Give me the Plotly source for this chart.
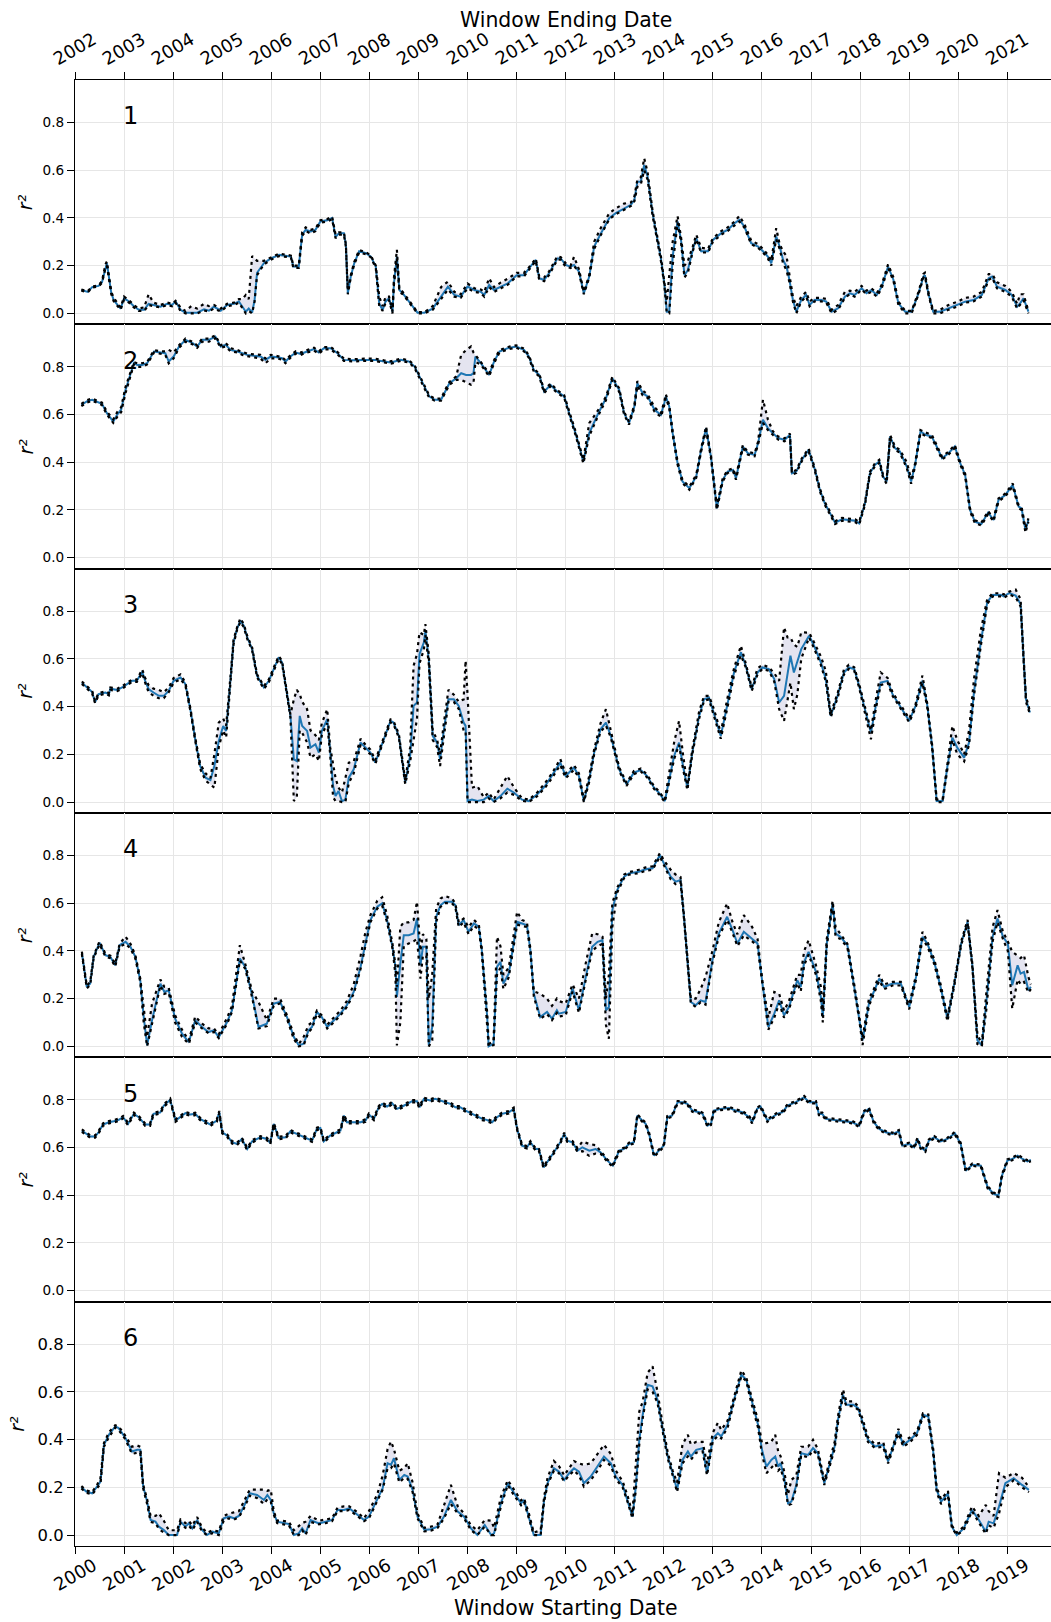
import plotly.graph_objects as go
from plotly.subplots import make_subplots

# ---------------------------------------------------------------------------
# Rolling-window r^2 for six series: window start (decimal year), central
# estimate, lower and upper band.
# ---------------------------------------------------------------------------

T1 = [2000.13, 2000.26, 2000.35, 2000.48, 2000.55, 2000.62, 2000.65, 2000.74, 2000.79, 2000.87,
      2000.93, 2001.0, 2001.1, 2001.2, 2001.3, 2001.41, 2001.5, 2001.6, 2001.74, 2001.88,
      2001.98, 2002.05, 2002.15, 2002.25, 2002.37, 2002.49, 2002.63, 2002.73, 2002.83, 2002.97,
      2003.1, 2003.24, 2003.34, 2003.41, 2003.48, 2003.54, 2003.61, 2003.66, 2003.71, 2003.85,
      2003.99, 2004.16, 2004.33, 2004.4, 2004.45, 2004.56, 2004.63, 2004.7, 2004.8, 2004.9,
      2005.0, 2005.14, 2005.24, 2005.31, 2005.38, 2005.48, 2005.52, 2005.56, 2005.62, 2005.69,
      2005.79, 2005.93, 2006.03, 2006.13, 2006.2, 2006.27, 2006.33, 2006.4, 2006.47, 2006.5,
      2006.56, 2006.61, 2006.68, 2006.81, 2006.98, 2007.12, 2007.29, 2007.46, 2007.6, 2007.73,
      2007.86, 2008.0, 2008.14, 2008.27, 2008.34, 2008.44, 2008.54, 2008.68, 2008.82, 2009.0,
      2009.15, 2009.28, 2009.39, 2009.46, 2009.56, 2009.66, 2009.83, 2009.9, 2010.0, 2010.1,
      2010.17, 2010.27, 2010.37, 2010.48, 2010.58, 2010.72, 2010.89, 2011.02, 2011.19, 2011.33,
      2011.4, 2011.46, 2011.53, 2011.6, 2011.67, 2011.77, 2011.87, 2011.94, 2012.01, 2012.06,
      2012.11, 2012.18, 2012.28, 2012.35, 2012.42, 2012.49, 2012.59, 2012.66, 2012.76, 2012.9,
      2013.0, 2013.17, 2013.3, 2013.44, 2013.54, 2013.64, 2013.78, 2013.92, 2014.02, 2014.12,
      2014.19, 2014.29, 2014.36, 2014.43, 2014.5, 2014.56, 2014.63, 2014.7, 2014.8, 2014.9,
      2014.97, 2015.07, 2015.21, 2015.31, 2015.42, 2015.55, 2015.69, 2015.79, 2015.89, 2016.03,
      2016.13, 2016.23, 2016.34, 2016.44, 2016.57, 2016.68, 2016.78, 2016.92, 2017.05, 2017.19,
      2017.29, 2017.32, 2017.39, 2017.49, 2017.63, 2017.8, 2018.0, 2018.14, 2018.31, 2018.48,
      2018.62, 2018.69, 2018.79, 2018.96, 2019.09, 2019.2, 2019.26, 2019.33, 2019.43]
M1 = [.098, .09, .11, .115, .13, .195, .21, .085, .055, .035,
      .02, .063, .05, .03, .015, .015, .04, .035, .028, .04,
      .035, .05, .015, .003, .003, .003, .017, .011, .028, .011,
      .035, .04, .05, .031, .007, .02, .003, .056, .17, .21,
      .23, .245, .238, .238, .196, .196, .33, .35, .343, .35,
      .385, .39, .4, .32, .336, .336, .287, .084, .154, .21,
      .26, .252, .238, .196, .04, .014, .05, .063, .007, .126,
      .238, .098, .084, .05, .003, .003, .02, .07, .112, .077,
      .07, .112, .098, .09, .077, .119, .098, .112, .126, .16,
      .16, .196, .224, .147, .14, .168, .23, .23, .203, .196,
      .203, .175, .084, .154, .28, .336, .4, .42, .44, .455,
      .476, .552, .552, .622, .573, .42, .308, .23, .126, .007,
      .007, .238, .385, .308, .16, .182, .266, .315, .26, .26,
      .308, .336, .35, .378, .392, .364, .294, .28, .26, .238,
      .21, .322, .28, .224, .196, .14, .056, .007, .056, .077,
      .035, .056, .056, .049, .007, .021, .07, .084, .077, .105,
      .084, .098, .077, .112, .196, .14, .042, .007, .007, .084,
      .154, .16, .084, .007, .007, .021, .035, .049, .056, .077,
      .147, .154, .112, .098, .077, .028, .042, .063, .007]
L1 = [.095, .088, .108, .113, .128, .19, .2, .08, .05, .03,
      .015, .058, .045, .025, .01, .01, .035, .03, .025, .035,
      .03, .045, .01, 0, 0, 0, .012, .008, .02, .008,
      .03, .035, .045, .02, 0, .01, 0, .05, .16, .205,
      .225, .24, .235, .235, .19, .19, .325, .345, .335, .345,
      .38, .385, .395, .315, .33, .33, .28, .08, .15, .205,
      .255, .248, .235, .19, .03, .01, .045, .055, 0, .12,
      .23, .09, .08, .045, 0, 0, .015, .06, .1, .07,
      .065, .105, .09, .085, .07, .11, .09, .105, .12, .155,
      .155, .19, .22, .14, .135, .16, .225, .225, .195, .19,
      .2, .17, .08, .15, .27, .33, .395, .415, .435, .45,
      .47, .53, .54, .6, .56, .41, .3, .22, .12, 0,
      0, .2, .38, .3, .15, .17, .26, .31, .255, .255,
      .3, .33, .345, .37, .385, .36, .29, .275, .255, .23,
      .2, .31, .27, .21, .18, .13, .05, 0, .05, .07,
      .03, .05, .05, .045, 0, .015, .065, .08, .07, .1,
      .08, .09, .07, .105, .19, .135, .035, 0, 0, .08,
      .15, .155, .08, 0, 0, .015, .03, .045, .05, .07,
      .14, .15, .105, .09, .07, .02, .035, .055, 0]
H1 = [.10, .093, .112, .118, .135, .205, .217, .09, .065, .04,
      .025, .07, .055, .035, .02, .025, .08, .045, .035, .045,
      .04, .052, .025, .01, .03, .02, .04, .03, .035, .02,
      .04, .045, .06, .06, .077, .06, .24, .23, .22, .22,
      .235, .25, .245, .242, .2, .2, .34, .36, .35, .355,
      .39, .395, .405, .33, .34, .34, .29, .1, .16, .215,
      .265, .256, .242, .2, .07, .03, .07, .07, .01, .15,
      .266, .105, .09, .055, .005, .005, .03, .11, .133, .09,
      .08, .125, .105, .1, .09, .147, .11, .13, .145, .17,
      .17, .2, .23, .155, .15, .175, .24, .235, .21, .2,
      .237, .185, .09, .16, .3, .36, .42, .44, .46, .465,
      .49, .56, .57, .65, .59, .43, .315, .24, .13, .05,
      .16, .3, .408, .32, .2, .22, .28, .33, .275, .27,
      .315, .345, .36, .385, .408, .375, .305, .29, .27, .245,
      .22, .357, .29, .26, .24, .16, .07, .03, .07, .09,
      .05, .065, .065, .06, .015, .035, .09, .095, .09, .115,
      .095, .105, .085, .12, .205, .15, .05, .01, .01, .09,
      .165, .17, .09, .01, .015, .035, .05, .065, .07, .09,
      .165, .165, .13, .115, .09, .04, .08, .08, .01]

T2 = [2000.13, 2000.24, 2000.35, 2000.45, 2000.55, 2000.65, 2000.78, 2000.86, 2000.94, 2001.03,
      2001.13, 2001.2, 2001.27, 2001.37, 2001.47, 2001.61, 2001.74, 2001.84, 2001.91, 2002.01,
      2002.12, 2002.25, 2002.39, 2002.49, 2002.59, 2002.73, 2002.86, 2002.97, 2003.07, 2003.17,
      2003.31, 2003.41, 2003.51, 2003.65, 2003.78, 2003.88, 2003.99, 2004.12, 2004.22, 2004.29,
      2004.39, 2004.5, 2004.6, 2004.73, 2004.87, 2004.97, 2005.07, 2005.21, 2005.35, 2005.48,
      2005.69, 2005.89, 2006.1, 2006.3, 2006.44, 2006.64, 2006.81, 2006.92, 2007.02, 2007.12,
      2007.22, 2007.33, 2007.46, 2007.56, 2007.63, 2007.77, 2007.87, 2007.97, 2008.07, 2008.12,
      2008.16, 2008.27, 2008.44, 2008.54, 2008.65, 2008.82, 2008.99, 2009.15, 2009.25, 2009.35,
      2009.46, 2009.56, 2009.69, 2009.83, 2009.97, 2010.07, 2010.2, 2010.36, 2010.48, 2010.65,
      2010.82, 2010.95, 2011.09, 2011.19, 2011.29, 2011.4, 2011.46, 2011.57, 2011.67, 2011.81,
      2011.94, 2012.01, 2012.04, 2012.11, 2012.18, 2012.28, 2012.38, 2012.52, 2012.66, 2012.76,
      2012.86, 2012.96, 2013.08, 2013.2, 2013.3, 2013.41, 2013.47, 2013.61, 2013.71, 2013.85,
      2013.92, 2014.02, 2014.12, 2014.22, 2014.33, 2014.46, 2014.57, 2014.61, 2014.7, 2014.81,
      2014.95, 2015.08, 2015.18, 2015.28, 2015.42, 2015.49, 2015.63, 2015.76, 2015.9, 2015.98,
      2016.1, 2016.2, 2016.3, 2016.39, 2016.47, 2016.54, 2016.61, 2016.71, 2016.81, 2016.95,
      2017.04, 2017.12, 2017.23, 2017.33, 2017.46, 2017.56, 2017.67, 2017.8, 2017.93, 2018.04,
      2018.14, 2018.24, 2018.34, 2018.47, 2018.61, 2018.72, 2018.82, 2018.96, 2019.11, 2019.23,
      2019.29, 2019.37, 2019.43]
M2 = [.64, .655, .662, .655, .645, .606, .57, .6, .62, .703,
      .773, .815, .808, .808, .815, .864, .86, .857, .822, .843,
      .885, .913, .9, .885, .913, .913, .927, .885, .892, .871,
      .864, .857, .85, .846, .843, .829, .843, .84, .836, .822,
      .843, .86, .854, .864, .874, .86, .878, .878, .857, .829,
      .827, .829, .829, .822, .818, .829, .822, .801, .759, .717,
      .676, .662, .662, .703, .731, .752, .773, .766, .766, .773,
      .843, .815, .766, .822, .864, .878, .885, .871, .843, .787,
      .766, .696, .724, .696, .676, .606, .522, .403, .522, .599,
      .668, .752, .703, .606, .564, .634, .731, .689, .676, .62,
      .599, .648, .676, .634, .522, .396, .319, .291, .34, .452,
      .543, .424, .207, .326, .361, .368, .333, .466, .438, .431,
      .48, .578, .543, .522, .501, .494, .515, .354, .361, .41,
      .452, .368, .284, .228, .172, .147, .161, .158, .155, .144,
      .228, .354, .389, .403, .34, .319, .508, .459, .445, .382,
      .319, .389, .529, .515, .508, .466, .417, .438, .466, .396,
      .347, .2, .151, .141, .189, .158, .242, .263, .305, .214,
      .207, .116, .158]
L2 = [.635, .65, .658, .65, .64, .6, .565, .59, .61, .69,
      .765, .81, .8, .8, .81, .86, .855, .85, .815, .835,
      .88, .905, .895, .88, .905, .905, .92, .88, .885, .865,
      .86, .85, .845, .84, .835, .815, .835, .835, .83, .815,
      .838, .855, .85, .86, .868, .855, .873, .873, .852, .825,
      .822, .825, .825, .818, .813, .825, .818, .795, .75, .71,
      .67, .658, .658, .698, .725, .745, .745, .735, .725, .73,
      .82, .81, .76, .815, .86, .873, .88, .865, .838, .78,
      .76, .69, .718, .69, .67, .6, .515, .395, .51, .59,
      .66, .745, .695, .6, .558, .628, .72, .68, .67, .612,
      .59, .64, .67, .628, .515, .39, .312, .285, .335, .445,
      .535, .418, .2, .32, .355, .362, .327, .46, .432, .425,
      .474, .565, .535, .515, .495, .488, .508, .348, .355, .404,
      .446, .362, .278, .222, .166, .141, .155, .152, .149, .138,
      .222, .348, .383, .397, .334, .31, .5, .452, .44, .376,
      .31, .383, .523, .51, .502, .46, .411, .432, .46, .39,
      .341, .194, .145, .135, .183, .152, .236, .257, .299, .208,
      .2, .105, .15]
H2 = [.645, .66, .667, .66, .65, .612, .58, .61, .63, .715,
      .78, .82, .815, .815, .82, .87, .865, .865, .871, .86,
      .89, .918, .905, .89, .918, .918, .932, .89, .9, .878,
      .87, .862, .855, .852, .85, .835, .85, .845, .84, .828,
      .848, .865, .86, .87, .88, .865, .883, .883, .862, .834,
      .832, .834, .834, .827, .823, .834, .827, .806, .765, .722,
      .68, .667, .667, .71, .736, .76, .85, .87, .885, .86,
      .85, .82, .772, .828, .87, .883, .89, .876, .848, .792,
      .772, .702, .73, .702, .68, .612, .53, .41, .564, .615,
      .675, .758, .71, .612, .57, .64, .74, .7, .685, .63,
      .605, .655, .685, .64, .53, .403, .325, .298, .347, .458,
      .55, .43, .215, .333, .367, .374, .34, .472, .444, .437,
      .486, .662, .58, .53, .508, .5, .52, .36, .367, .416,
      .458, .374, .29, .234, .178, .153, .167, .164, .161, .15,
      .234, .36, .395, .41, .346, .325, .515, .466, .452, .4,
      .33, .395, .535, .525, .515, .472, .423, .444, .472, .402,
      .353, .206, .157, .147, .195, .164, .248, .269, .311, .22,
      .213, .125, .165]

T3 = [2000.14, 2000.24, 2000.35, 2000.38, 2000.41, 2000.48, 2000.62, 2000.69, 2000.72, 2000.86,
      2000.96, 2001.06, 2001.16, 2001.26, 2001.37, 2001.43, 2001.5, 2001.6, 2001.71, 2001.81,
      2001.91, 2002.01, 2002.15, 2002.25, 2002.35, 2002.45, 2002.55, 2002.66, 2002.76, 2002.84,
      2002.93, 2003.02, 2003.08, 2003.17, 2003.23, 2003.3, 2003.37, 2003.44, 2003.51, 2003.61,
      2003.71, 2003.85, 2003.95, 2004.05, 2004.15, 2004.22, 2004.32, 2004.39, 2004.46, 2004.52,
      2004.58, 2004.63, 2004.73, 2004.8, 2004.9, 2004.97, 2005.03, 2005.14, 2005.2, 2005.26,
      2005.31, 2005.37, 2005.44, 2005.51, 2005.58, 2005.68, 2005.82, 2005.92, 2006.02, 2006.12,
      2006.22, 2006.32, 2006.43, 2006.49, 2006.6, 2006.66, 2006.73, 2006.83, 2006.9, 2006.97,
      2007.02, 2007.11, 2007.14, 2007.21, 2007.29, 2007.38, 2007.44, 2007.51, 2007.61, 2007.72,
      2007.82, 2007.92, 2007.96, 2008.0, 2008.09, 2008.2, 2008.33, 2008.43, 2008.53, 2008.67,
      2008.81, 2008.95, 2009.11, 2009.25, 2009.42, 2009.58, 2009.72, 2009.89, 2010.0, 2010.17,
      2010.27, 2010.37, 2010.48, 2010.58, 2010.71, 2010.82, 2010.92, 2011.09, 2011.24, 2011.39,
      2011.53, 2011.66, 2011.8, 2011.9, 2012.02, 2012.11, 2012.21, 2012.31, 2012.39, 2012.48,
      2012.58, 2012.72, 2012.82, 2012.92, 2013.02, 2013.16, 2013.29, 2013.43, 2013.57, 2013.67,
      2013.79, 2013.91, 2014.01, 2014.14, 2014.25, 2014.35, 2014.45, 2014.52, 2014.58, 2014.65,
      2014.72, 2014.8, 2014.96, 2015.06, 2015.2, 2015.3, 2015.4, 2015.54, 2015.67, 2015.77,
      2015.88, 2015.98, 2016.08, 2016.22, 2016.32, 2016.42, 2016.56, 2016.66, 2016.79, 2016.9,
      2017.0, 2017.13, 2017.27, 2017.37, 2017.47, 2017.56, 2017.68, 2017.78, 2017.88, 2017.98,
      2018.12, 2018.22, 2018.32, 2018.46, 2018.59, 2018.7, 2018.87, 2018.93, 2019.04, 2019.17,
      2019.27, 2019.34, 2019.38, 2019.41, 2019.46]
M3 = [.5, .48, .461, .438, .419, .452, .459, .452, .475, .47,
      .48, .494, .508, .508, .546, .508, .473, .459, .445, .445,
      .466, .508, .522, .494, .389, .263, .151, .102, .092, .151,
      .256, .319, .298, .515, .669, .725, .76, .739, .69, .641,
      .529, .48, .508, .557, .606, .585, .459, .361, .179, .172,
      .361, .319, .298, .228, .242, .207, .298, .347, .214, .067,
      .025, .046, .004, .01, .102, .137, .249, .228, .207, .165,
      .221, .284, .34, .333, .277, .186, .081, .193, .403, .417,
      .62, .669, .718, .599, .277, .249, .179, .291, .431, .431,
      .403, .333, .319, .004, .01, .004, .01, .025, .004, .025,
      .056, .039, .01, .004, .032, .067, .109, .165, .109, .144,
      .109, .004, .095, .207, .305, .333, .277, .137, .074, .123,
      .134, .109, .06, .039, .004, .095, .193, .249, .151, .06,
      .207, .361, .431, .438, .375, .277, .403, .543, .627, .571,
      .473, .543, .564, .557, .515, .417, .445, .529, .613, .543,
      .585, .641, .697, .655, .585, .515, .361, .445, .543, .564,
      .557, .487, .403, .291, .403, .501, .508, .452, .41, .375,
      .34, .403, .508, .403, .228, .004, .004, .151, .27, .228,
      .186, .249, .459, .669, .837, .868, .868, .862, .876, .865,
      .83, .571, .431, .41, .375]
L3 = [.495, .475, .455, .433, .414, .447, .454, .447, .47, .465,
      .475, .489, .503, .503, .54, .5, .46, .445, .435, .435,
      .46, .5, .515, .488, .383, .257, .14, .09, .075, .06,
      .23, .3, .27, .5, .66, .72, .755, .733, .684, .635,
      .523, .474, .502, .55, .6, .579, .453, .355, .004, .02,
      .3, .29, .25, .186, .2, .172, .28, .33, .2, .02,
      .004, .004, 0, 0, .08, .12, .24, .22, .2, .16,
      .215, .278, .334, .327, .27, .18, .075, .17, .27, .35,
      .58, .64, .7, .58, .26, .23, .151, .27, .42, .42,
      .39, .3, .3, 0, 0, 0, 0, .015, 0, .015,
      .04, .03, .005, 0, .025, .06, .1, .155, .1, .135,
      .1, 0, .085, .2, .295, .32, .27, .13, .068, .117,
      .128, .103, .055, .033, 0, .085, .18, .24, .14, .05,
      .2, .35, .425, .43, .365, .265, .39, .53, .615, .565,
      .465, .535, .558, .55, .505, .389, .34, .42, .5, .389,
      .45, .6, .69, .645, .575, .505, .355, .435, .535, .558,
      .55, .48, .395, .263, .39, .49, .5, .445, .404, .368,
      .334, .395, .5, .395, .22, 0, 0, .14, .26, .2,
      .17, .24, .445, .655, .83, .862, .862, .856, .87, .858,
      .82, .56, .42, .4, .37]
H3 = [.505, .485, .466, .443, .424, .457, .464, .457, .48, .475,
      .485, .499, .513, .513, .556, .52, .49, .475, .47, .46,
      .48, .52, .535, .5, .395, .27, .16, .12, .1, .2,
      .333, .35, .32, .53, .68, .73, .77, .745, .696, .647,
      .535, .486, .514, .563, .612, .591, .465, .367, .43, .47,
      .452, .42, .389, .3, .28, .26, .33, .389, .23, .151,
      .1, .06, .04, .1, .165, .17, .265, .24, .22, .175,
      .23, .29, .346, .34, .285, .195, .09, .23, .571, .62,
      .711, .7, .746, .62, .3, .26, .2, .32, .47, .45,
      .42, .43, .592, .45, .06, .067, .02, .04, .01, .06,
      .109, .06, .015, .01, .04, .08, .12, .18, .12, .155,
      .12, .01, .11, .22, .33, .389, .3, .145, .08, .13,
      .14, .115, .066, .045, .01, .12, .25, .34, .2, .07,
      .22, .38, .445, .445, .39, .29, .43, .56, .655, .58,
      .48, .56, .575, .565, .54, .508, .732, .69, .69, .66,
      .65, .711, .71, .67, .61, .55, .37, .455, .555, .575,
      .565, .495, .41, .3, .43, .543, .52, .46, .418, .382,
      .35, .41, .53, .41, .235, .01, .01, .16, .319, .26,
      .2, .3, .515, .72, .85, .875, .875, .87, .882, .89,
      .85, .58, .44, .42, .38]

T4 = [2000.14, 2000.24, 2000.31, 2000.38, 2000.5, 2000.62, 2000.72, 2000.82, 2000.91, 2001.03,
      2001.13, 2001.23, 2001.33, 2001.4, 2001.47, 2001.57, 2001.74, 2001.82, 2001.91, 2002.04,
      2002.18, 2002.32, 2002.45, 2002.59, 2002.72, 2002.83, 2002.93, 2003.1, 2003.2, 2003.36,
      2003.47, 2003.61, 2003.74, 2003.91, 2004.05, 2004.18, 2004.32, 2004.46, 2004.56, 2004.66,
      2004.76, 2004.83, 2004.93, 2005.03, 2005.14, 2005.27, 2005.41, 2005.54, 2005.68, 2005.82,
      2005.92, 2006.02, 2006.16, 2006.26, 2006.36, 2006.47, 2006.53, 2006.56, 2006.63, 2006.7,
      2006.8, 2006.9, 2006.97, 2007.04, 2007.09, 2007.16, 2007.21, 2007.28, 2007.36, 2007.45,
      2007.54, 2007.68, 2007.75, 2007.82, 2007.92, 2008.02, 2008.13, 2008.23, 2008.29, 2008.4,
      2008.43, 2008.53, 2008.6, 2008.67, 2008.73, 2008.84, 2008.94, 2009.01, 2009.11, 2009.21,
      2009.28, 2009.35, 2009.48, 2009.62, 2009.72, 2009.82, 2009.86, 2010.0, 2010.14, 2010.27,
      2010.41, 2010.54, 2010.65, 2010.75, 2010.82, 2010.88, 2010.95, 2011.05, 2011.19, 2011.29,
      2011.49, 2011.63, 2011.77, 2011.92, 2012.0, 2012.14, 2012.24, 2012.34, 2012.41, 2012.48,
      2012.55, 2012.65, 2012.75, 2012.85, 2012.99, 2013.12, 2013.29, 2013.4, 2013.5, 2013.63,
      2013.8, 2013.91, 2014.01, 2014.13, 2014.25, 2014.35, 2014.45, 2014.55, 2014.72, 2014.79,
      2014.86, 2014.95, 2015.1, 2015.2, 2015.24, 2015.32, 2015.44, 2015.5, 2015.6, 2015.74,
      2015.88, 2015.98, 2016.05, 2016.18, 2016.28, 2016.39, 2016.49, 2016.66, 2016.83, 2016.94,
      2017.0, 2017.14, 2017.27, 2017.37, 2017.51, 2017.64, 2017.78, 2017.92, 2018.06, 2018.19,
      2018.29, 2018.39, 2018.48, 2018.57, 2018.7, 2018.8, 2018.91, 2019.01, 2019.1, 2019.21,
      2019.27, 2019.34, 2019.43, 2019.48]
M4 = [.392, .249, .263, .375, .434, .382, .375, .34, .424, .438,
      .417, .375, .277, .123, .004, .109, .263, .228, .235, .116,
      .053, .018, .109, .081, .06, .067, .039, .102, .151, .368,
      .333, .214, .081, .095, .179, .186, .123, .039, .004, .011,
      .067, .081, .144, .123, .081, .109, .137, .172, .228, .333,
      .431, .529, .585, .599, .529, .417, .333, .207, .347, .466,
      .466, .473, .536, .34, .417, .417, .004, .081, .543, .592,
      .606, .606, .592, .508, .529, .48, .515, .501, .403, .123,
      0, .011, .333, .354, .263, .305, .431, .522, .515, .508,
      .403, .221, .123, .144, .116, .151, .137, .144, .242, .151,
      .291, .417, .438, .445, .151, .165, .571, .655, .711, .725,
      .732, .742, .746, .802, .767, .711, .69, .697, .543, .361,
      .186, .172, .193, .186, .361, .473, .543, .487, .431, .48,
      .452, .431, .263, .081, .137, .193, .13, .165, .277, .249,
      .354, .396, .312, .207, .123, .431, .599, .473, .459, .424,
      .249, .123, .025, .179, .228, .284, .249, .263, .263, .193,
      .165, .291, .459, .431, .354, .249, .116, .263, .431, .522,
      .333, .025, .004, .179, .459, .536, .459, .431, .256, .34,
      .305, .312, .235, .249]
L4 = [.387, .243, .257, .37, .428, .376, .37, .334, .418, .43,
      .41, .368, .27, .1, 0, .09, .255, .22, .225, .1,
      .04, .01, .1, .075, .055, .06, .035, .095, .145, .36,
      .325, .205, .075, .085, .17, .18, .115, .03, 0, .005,
      .06, .075, .135, .115, .075, .1, .13, .165, .22, .325,
      .42, .52, .578, .59, .52, .41, .3, .004, .1, .42,
      .431, .44, .45, .284, .38, .38, 0, .025, .52, .585,
      .6, .6, .585, .5, .52, .47, .505, .49, .395, .11,
      0, .005, .3, .33, .24, .29, .42, .51, .505, .5,
      .395, .21, .115, .135, .11, .14, .125, .13, .23, .14,
      .28, .4, .42, .43, .09, .032, .5, .645, .705, .72,
      .726, .736, .74, .795, .76, .7, .68, .69, .535, .355,
      .18, .165, .185, .175, .35, .46, .53, .475, .42, .465,
      .44, .42, .255, .07, .12, .18, .12, .155, .265, .23,
      .34, .385, .3, .19, .1, .42, .59, .46, .45, .415,
      .24, .115, .005, .17, .22, .275, .24, .255, .255, .185,
      .155, .28, .45, .42, .345, .24, .105, .255, .425, .515,
      .325, .01, 0, .15, .44, .52, .45, .4, .158, .28,
      .26, .27, .225, .24]
H4 = [.397, .255, .27, .38, .44, .388, .38, .346, .43, .46,
      .43, .382, .285, .15, .04, .179, .28, .25, .245, .13,
      .07, .025, .125, .095, .075, .075, .05, .12, .17, .424,
      .345, .23, .186, .11, .2, .2, .13, .05, .01, .04,
      .09, .1, .15, .13, .09, .12, .15, .19, .26, .38,
      .48, .55, .61, .625, .55, .43, .34, .25, .501, .52,
      .52, .53, .606, .4, .47, .45, .2, .3, .578, .62,
      .63, .62, .6, .52, .535, .5, .53, .51, .41, .14,
      .01, .02, .459, .42, .3, .33, .47, .564, .53, .52,
      .41, .23, .221, .2, .17, .2, .19, .18, .26, .2,
      .35, .473, .47, .46, .2, .3, .6, .665, .72, .73,
      .74, .75, .755, .81, .78, .74, .72, .71, .55, .37,
      .2, .2, .24, .291, .4, .52, .599, .52, .47, .55,
      .5, .45, .27, .12, .228, .22, .15, .19, .3, .3,
      .4, .445, .34, .25, .15, .45, .61, .5, .47, .43,
      .26, .13, .035, .2, .24, .3, .26, .27, .27, .2,
      .175, .3, .48, .44, .365, .26, .125, .27, .44, .53,
      .34, .05, .01, .22, .5, .571, .48, .44, .396, .38,
      .37, .382, .29, .26]

T5 = [2000.14, 2000.24, 2000.31, 2000.41, 2000.48, 2000.57, 2000.69, 2000.79, 2000.89, 2000.98,
      2001.08, 2001.2, 2001.3, 2001.43, 2001.53, 2001.6, 2001.67, 2001.74, 2001.81, 2001.94,
      2002.05, 2002.15, 2002.25, 2002.35, 2002.45, 2002.55, 2002.66, 2002.76, 2002.89, 2002.94,
      2003.0, 2003.1, 2003.2, 2003.3, 2003.4, 2003.51, 2003.61, 2003.78, 2003.91, 2003.98,
      2004.05, 2004.15, 2004.29, 2004.39, 2004.52, 2004.66, 2004.83, 2004.93, 2005.0, 2005.07,
      2005.2, 2005.34, 2005.41, 2005.48, 2005.54, 2005.68, 2005.82, 2005.92, 2005.99, 2006.09,
      2006.19, 2006.26, 2006.36, 2006.46, 2006.56, 2006.67, 2006.77, 2006.87, 2006.97, 2007.02,
      2007.11, 2007.24, 2007.34, 2007.48, 2007.65, 2007.75, 2007.85, 2007.96, 2008.06, 2008.19,
      2008.3, 2008.39, 2008.5, 2008.6, 2008.7, 2008.84, 2008.94, 2009.01, 2009.11, 2009.21,
      2009.28, 2009.38, 2009.45, 2009.55, 2009.65, 2009.76, 2009.89, 2009.97, 2010.03, 2010.14,
      2010.24, 2010.34, 2010.48, 2010.61, 2010.71, 2010.85, 2010.96, 2011.09, 2011.19, 2011.29,
      2011.39, 2011.46, 2011.56, 2011.63, 2011.7, 2011.8, 2011.9, 2012.0, 2012.07, 2012.17,
      2012.28, 2012.38, 2012.48, 2012.58, 2012.72, 2012.79, 2012.89, 2012.96, 2013.02, 2013.16,
      2013.33, 2013.46, 2013.6, 2013.74, 2013.8, 2013.9, 2013.97, 2014.11, 2014.21, 2014.31,
      2014.42, 2014.52, 2014.69, 2014.86, 2014.96, 2015.1, 2015.16, 2015.23, 2015.3, 2015.43,
      2015.57, 2015.71, 2015.84, 2015.98, 2016.08, 2016.18, 2016.28, 2016.39, 2016.52, 2016.66,
      2016.79, 2016.86, 2017.0, 2017.1, 2017.17, 2017.23, 2017.33, 2017.4, 2017.51, 2017.64,
      2017.78, 2017.93, 2018.05, 2018.15, 2018.29, 2018.46, 2018.6, 2018.73, 2018.82, 2018.89,
      2019.0, 2019.1, 2019.21, 2019.31, 2019.41, 2019.48]
M5 = [.671, .657, .646, .646, .664, .696, .706, .71, .716, .727,
      .699, .741, .727, .696, .696, .741, .744, .747, .776, .8,
      .713, .727, .744, .738, .741, .72, .706, .696, .713, .748,
      .664, .65, .622, .615, .636, .594, .626, .643, .636, .618,
      .699, .64, .643, .668, .657, .643, .629, .678, .682, .626,
      .65, .664, .671, .734, .706, .706, .706, .713, .738, .72,
      .769, .783, .772, .786, .762, .772, .783, .794, .794, .769,
      .804, .797, .804, .794, .783, .769, .769, .755, .744, .73,
      .72, .716, .706, .727, .741, .748, .762, .678, .608, .601,
      .622, .594, .594, .517, .545, .58, .622, .657, .629, .622,
      .587, .601, .587, .594, .58, .545, .524, .587, .594, .615,
      .622, .734, .713, .699, .657, .566, .587, .608, .727, .734,
      .79, .79, .783, .755, .748, .741, .692, .699, .755, .762,
      .766, .755, .748, .727, .706, .762, .772, .713, .727, .741,
      .748, .776, .79, .811, .79, .79, .741, .741, .72, .716,
      .713, .71, .706, .692, .748, .762, .706, .678, .664, .657,
      .668, .608, .615, .601, .636, .601, .587, .629, .643, .626,
      .636, .66, .615, .503, .528, .524, .433, .405, .398, .482,
      .545, .552, .566, .552, .542, .548]
L5 = [.666, .652, .641, .641, .659, .691, .701, .705, .711, .722,
      .694, .736, .722, .691, .691, .736, .739, .742, .771, .795,
      .708, .722, .739, .733, .736, .715, .701, .691, .708, .743,
      .659, .645, .617, .61, .631, .589, .621, .638, .631, .613,
      .694, .635, .638, .663, .652, .638, .624, .673, .677, .621,
      .645, .659, .666, .729, .701, .701, .701, .708, .733, .715,
      .764, .778, .767, .781, .757, .767, .778, .789, .789, .764,
      .799, .792, .799, .789, .778, .764, .764, .75, .739, .725,
      .715, .711, .701, .722, .736, .743, .757, .673, .603, .596,
      .617, .589, .589, .512, .54, .575, .617, .652, .624, .617,
      .582, .585, .565, .575, .575, .54, .519, .582, .589, .61,
      .617, .729, .708, .694, .652, .561, .582, .603, .722, .729,
      .785, .785, .778, .75, .743, .736, .687, .694, .75, .757,
      .761, .75, .743, .722, .701, .757, .767, .708, .722, .736,
      .743, .771, .785, .806, .785, .785, .736, .736, .715, .711,
      .708, .705, .701, .687, .743, .757, .701, .673, .659, .652,
      .663, .603, .61, .596, .631, .596, .582, .624, .638, .621,
      .631, .655, .61, .498, .523, .519, .428, .4, .393, .477,
      .54, .547, .561, .547, .537, .543]
H5 = [.676, .662, .651, .651, .669, .701, .711, .715, .721, .732,
      .704, .746, .732, .701, .701, .746, .749, .752, .781, .805,
      .718, .732, .749, .743, .746, .725, .711, .701, .718, .753,
      .669, .655, .627, .62, .641, .599, .631, .648, .641, .623,
      .704, .645, .648, .673, .662, .648, .634, .683, .687, .631,
      .655, .669, .676, .739, .711, .711, .711, .718, .743, .725,
      .774, .788, .777, .791, .767, .777, .788, .799, .799, .774,
      .809, .802, .809, .799, .788, .774, .774, .76, .749, .735,
      .725, .721, .711, .732, .746, .753, .767, .683, .613, .606,
      .627, .599, .599, .522, .55, .585, .627, .662, .634, .627,
      .597, .625, .615, .61, .585, .55, .529, .592, .599, .62,
      .627, .739, .718, .704, .662, .571, .592, .613, .732, .739,
      .795, .795, .788, .76, .753, .746, .697, .704, .76, .767,
      .771, .76, .753, .732, .711, .767, .777, .718, .732, .746,
      .753, .781, .795, .816, .795, .795, .746, .746, .725, .721,
      .718, .715, .711, .697, .753, .767, .711, .683, .669, .662,
      .673, .613, .62, .606, .641, .606, .592, .634, .648, .631,
      .641, .665, .62, .508, .533, .529, .438, .41, .403, .487,
      .55, .557, .571, .557, .547, .553]

T6 = [2000.13, 2000.23, 2000.35, 2000.45, 2000.52, 2000.59, 2000.69, 2000.82, 2000.89, 2001.03,
      2001.16, 2001.27, 2001.33, 2001.39, 2001.47, 2001.54, 2001.64, 2001.71, 2001.81, 2001.91,
      2002.08, 2002.15, 2002.25, 2002.32, 2002.39, 2002.49, 2002.59, 2002.69, 2002.8, 2002.93,
      2003.03, 2003.14, 2003.24, 2003.34, 2003.44, 2003.56, 2003.71, 2003.85, 2003.92, 2003.99,
      2004.05, 2004.12, 2004.22, 2004.36, 2004.46, 2004.56, 2004.63, 2004.7, 2004.8, 2004.97,
      2005.11, 2005.24, 2005.35, 2005.48, 2005.59, 2005.76, 2005.89, 2005.99, 2006.16, 2006.27,
      2006.37, 2006.44, 2006.5, 2006.61, 2006.71, 2006.78, 2006.88, 2006.98, 2007.12, 2007.25,
      2007.39, 2007.52, 2007.66, 2007.8, 2007.93, 2008.07, 2008.2, 2008.35, 2008.48, 2008.54,
      2008.68, 2008.82, 2008.95, 2009.09, 2009.15, 2009.25, 2009.35, 2009.49, 2009.56, 2009.63,
      2009.76, 2009.86, 2009.97, 2010.07, 2010.17, 2010.27, 2010.37, 2010.51, 2010.65, 2010.78,
      2010.92, 2011.02, 2011.16, 2011.26, 2011.36, 2011.43, 2011.5, 2011.57, 2011.67, 2011.77,
      2011.87, 2011.98, 2012.08, 2012.18, 2012.27, 2012.38, 2012.49, 2012.55, 2012.66, 2012.79,
      2012.88, 2013.0, 2013.1, 2013.17, 2013.3, 2013.44, 2013.58, 2013.68, 2013.78, 2013.92,
      2014.0, 2014.09, 2014.19, 2014.27, 2014.33, 2014.38, 2014.46, 2014.53, 2014.6, 2014.7,
      2014.8, 2014.94, 2015.04, 2015.14, 2015.27, 2015.38, 2015.48, 2015.55, 2015.65, 2015.72,
      2015.86, 2015.96, 2016.06, 2016.16, 2016.3, 2016.47, 2016.57, 2016.68, 2016.78, 2016.88,
      2017.02, 2017.16, 2017.28, 2017.39, 2017.49, 2017.56, 2017.65, 2017.79, 2017.87, 2017.97,
      2018.11, 2018.28, 2018.42, 2018.56, 2018.62, 2018.72, 2018.83, 2018.96, 2019.13, 2019.3,
      2019.44]
M6 = [.2, .182, .175, .203, .224, .378, .42, .455, .448, .406,
      .35, .357, .357, .203, .14, .063, .056, .035, .021, 0,
      0, .056, .035, .049, .028, .063, .021, 0, .014, .007,
      .07, .077, .07, .08, .119, .175, .168, .147, .168, .147,
      .091, .056, .052, .046, 0, .007, .028, .007, .063, .049,
      .056, .063, .105, .105, .112, .084, .063, .077, .147, .196,
      .301, .294, .322, .231, .252, .245, .189, .077, .021, .024,
      .035, .077, .147, .098, .077, .028, 0, .042, 0, .007,
      .133, .217, .175, .133, .147, .077, 0, 0, .147, .217,
      .28, .266, .231, .259, .28, .266, .217, .245, .287, .329,
      .301, .245, .21, .147, .077, .203, .399, .504, .63, .623,
      .567, .441, .329, .259, .189, .315, .35, .329, .357, .364,
      .259, .406, .427, .413, .462, .574, .672, .651, .567, .462,
      .357, .287, .315, .329, .287, .301, .231, .133, .14, .21,
      .343, .336, .364, .343, .217, .294, .371, .483, .588, .546,
      .546, .532, .469, .399, .371, .378, .308, .371, .434, .378,
      .399, .427, .504, .497, .35, .189, .14, .175, .035, 0,
      .028, .105, .063, .014, .056, .049, .119, .217, .238, .21,
      .189]
L6 = [.195, .177, .17, .198, .215, .37, .41, .45, .44, .4,
      .34, .345, .345, .195, .13, .055, .05, .025, .01, 0,
      0, .05, .03, .04, .02, .055, .015, 0, .008, 0,
      .06, .07, .065, .075, .11, .165, .155, .13, .15, .14,
      .085, .05, .046, .04, 0, 0, .02, 0, .055, .045,
      .05, .058, .1, .1, .105, .078, .058, .07, .14, .19,
      .28, .28, .3, .22, .24, .235, .18, .07, .015, .018,
      .03, .07, .13, .09, .07, .02, 0, .035, 0, 0,
      .12, .21, .165, .125, .14, .07, 0, 0, .14, .21,
      .27, .26, .225, .25, .27, .25, .203, .23, .27, .315,
      .29, .235, .2, .14, .07, .19, .38, .49, .61, .6,
      .555, .43, .32, .25, .18, .3, .33, .315, .345, .35,
      .25, .395, .415, .405, .45, .565, .665, .645, .555, .45,
      .34, .259, .28, .3, .27, .28, .22, .125, .13, .2,
      .335, .325, .355, .335, .21, .285, .36, .47, .58, .54,
      .54, .525, .46, .39, .365, .37, .3, .365, .425, .37,
      .39, .42, .497, .49, .34, .18, .13, .165, .03, 0,
      .02, .1, .055, .005, .04, .03, .09, .2, .23, .2,
      .18]
H6 = [.205, .187, .18, .21, .24, .385, .43, .46, .455, .415,
      .37, .375, .37, .21, .15, .08, .08, .091, .06, .02,
      .02, .065, .05, .06, .04, .075, .03, .01, .02, .015,
      .08, .09, .095, .1, .14, .19, .19, .19, .185, .19,
      .1, .06, .06, .055, .02, .04, .05, .056, .08, .06,
      .065, .07, .115, .12, .12, .095, .07, .1, .17, .25,
      .36, .392, .36, .27, .28, .301, .22, .09, .03, .035,
      .045, .12, .21, .12, .09, .04, .02, .063, .06, .03,
      .16, .23, .19, .145, .155, .09, .01, .02, .16, .24,
      .31, .29, .25, .28, .31, .3, .294, .3, .34, .378,
      .34, .27, .225, .165, .09, .3, .518, .56, .68, .707,
      .6, .46, .345, .27, .22, .38, .42, .38, .39, .39,
      .3, .43, .47, .44, .48, .585, .69, .66, .58, .48,
      .385, .385, .39, .42, .35, .33, .26, .17, .231, .25,
      .37, .37, .399, .36, .225, .31, .39, .5, .61, .56,
      .56, .54, .48, .41, .38, .39, .315, .38, .445, .39,
      .41, .435, .51, .505, .36, .2, .15, .185, .04, .01,
      .035, .12, .08, .126, .1, .08, .259, .24, .26, .24,
      .2]

PANEL_NAMES = ["1", "2", "3", "4", "5", "6"]
START_YEARS = list(range(2000, 2020))
END_YEARS = list(range(2002, 2022))
Y_TICKS = [0.0, 0.2, 0.4, 0.6, 0.8]
Y_TICK_TEXT = ["0.0", "0.2", "0.4", "0.6", "0.8"]
WINDOW_YEARS = 2

# ---------------------------------------------------------------------------
# Styling
# ---------------------------------------------------------------------------
FONT = "DejaVu Sans"
BLUE = "#1f77b4"
BAND = "#e4e4f0"
GRID = "#e6e6e6"
DOTS = "3px,4px"

W, H = 1051, 1622
ML, MR, MT, MB = 75, 0, 80, 76
PX_PER_YEAR = 49.07
X0 = 2000.0
X1 = X0 + (W - ML - MR) / PX_PER_YEAR
Y_RANGE = [-0.046, 0.978]
PLOT_H = H - MT - MB
YEAR_FONT = 18


def px_to_paper_y(py):
    return (H - MB - py) / PLOT_H


def px_to_paper_x(px):
    return (px - ML) / (W - ML - MR)


panels = [(T1, M1, L1, H1), (T2, M2, L2, H2), (T3, M3, L3, H3),
          (T4, M4, L4, H4), (T5, M5, L5, H5), (T6, M6, L6, H6)]

for t, m, lo, hi in panels:
    assert len(t) == len(m) == len(lo) == len(hi), (len(t), len(m), len(lo), len(hi))

fig = make_subplots(rows=6, cols=1, shared_xaxes=True, vertical_spacing=0)

for i, (t, m, lo, hi) in enumerate(panels, start=1):
    fig.add_trace(go.Scatter(x=t, y=lo, mode="lines", line=dict(width=0),
                             hoverinfo="skip", showlegend=False), row=i, col=1)
    fig.add_trace(go.Scatter(x=t, y=hi, mode="lines", line=dict(width=0),
                             fill="tonexty", fillcolor=BAND,
                             hoverinfo="skip", showlegend=False), row=i, col=1)
    fig.add_trace(go.Scatter(x=t, y=m, mode="lines",
                             line=dict(color=BLUE, width=2),
                             showlegend=False), row=i, col=1)
    for band in (lo, hi):
        fig.add_trace(go.Scatter(x=t, y=band, mode="lines",
                                 line=dict(color="black", width=2.2, dash=DOTS),
                                 showlegend=False), row=i, col=1)

# invisible trace that carries the "window ending date" axis
fig.add_trace(go.Scatter(x=[END_YEARS[0]], y=[None], xaxis="x7", yaxis="y",
                         mode="markers", showlegend=False, hoverinfo="skip"))

for i in range(1, 7):
    fig.update_xaxes(
        row=i, col=1,
        range=[X0, X1], tickvals=START_YEARS, showticklabels=False,
        showgrid=True, gridcolor=GRID, gridwidth=1, zeroline=False,
        showline=True, linecolor="black", linewidth=1.2, mirror=True,
        ticks="outside" if i == 6 else "", ticklen=7, tickwidth=1.2, tickcolor="black",
    )
    fig.update_yaxes(
        row=i, col=1,
        range=Y_RANGE, tickvals=Y_TICKS, ticktext=Y_TICK_TEXT,
        showgrid=True, gridcolor=GRID, gridwidth=1, zeroline=False,
        showline=True, linecolor="black", linewidth=1.2,
        ticks="outside", ticklen=7, tickwidth=1.2, tickcolor="black",
        tickfont=dict(family=FONT, size=16.4 if i == 6 else 13.6, color="black"),
    )

fig.update_layout(
    xaxis7=dict(overlaying="x", side="top", anchor="y",
                range=[X0 + WINDOW_YEARS, X1 + WINDOW_YEARS], tickvals=END_YEARS,
                showticklabels=False, showgrid=False, zeroline=False,
                showline=True, linecolor="black", linewidth=1.2,
                ticks="outside", ticklen=7, tickwidth=1.2, tickcolor="black"),
)

annotations = []
for i, name in enumerate(PANEL_NAMES, start=1):
    sx = "" if i == 1 else str(i)
    # panel number
    annotations.append(dict(x=2001, y=0.8, xref="x" + sx, yref="y" + sx,
                            text=name, showarrow=False, xanchor="left", yanchor="bottom",
                            xshift=-3, yshift=-10,
                            font=dict(family=FONT, size=24, color="black")))
    # y-axis label
    py_center = MT + (i - 0.5) * PLOT_H / 6
    lx = 17 if i == 6 else 25
    annotations.append(dict(x=px_to_paper_x(lx), y=px_to_paper_y(py_center),
                            xref="paper", yref="paper", text="r²",
                            textangle=-90, showarrow=False, xanchor="center", yanchor="middle",
                            font=dict(family=FONT, size=19, color="black", style="italic")))

# rotated year labels, bottom (start) and top (end)
for yr in START_YEARS:
    annotations.append(dict(x=yr, y=px_to_paper_y(1574), xref="x6", yref="paper",
                            text=str(yr), textangle=-30, showarrow=False,
                            xanchor="center", yanchor="middle",
                            font=dict(family=FONT, size=YEAR_FONT, color="black")))
for yr in END_YEARS:
    annotations.append(dict(x=yr, y=px_to_paper_y(49), xref="x7", yref="paper",
                            text=str(yr), textangle=-30, showarrow=False,
                            xanchor="center", yanchor="middle",
                            font=dict(family=FONT, size=YEAR_FONT, color="black")))

mid_year = 2010
annotations.append(dict(x=mid_year, y=px_to_paper_y(20), xref="x6", yref="paper",
                        text="Window Ending Date", showarrow=False,
                        xanchor="center", yanchor="middle",
                        font=dict(family=FONT, size=20.4, color="black")))
annotations.append(dict(x=mid_year, y=px_to_paper_y(1608), xref="x6", yref="paper",
                        text="Window Starting Date", showarrow=False,
                        xanchor="center", yanchor="middle",
                        font=dict(family=FONT, size=20.4, color="black")))

fig.update_layout(
    width=W, height=H, autosize=False,
    margin=dict(l=ML, r=MR, t=MT, b=MB, pad=0),
    paper_bgcolor="white", plot_bgcolor="white",
    font=dict(family=FONT, color="black"),
    showlegend=False,
    annotations=annotations,
)

fig.write_html("out.html")
